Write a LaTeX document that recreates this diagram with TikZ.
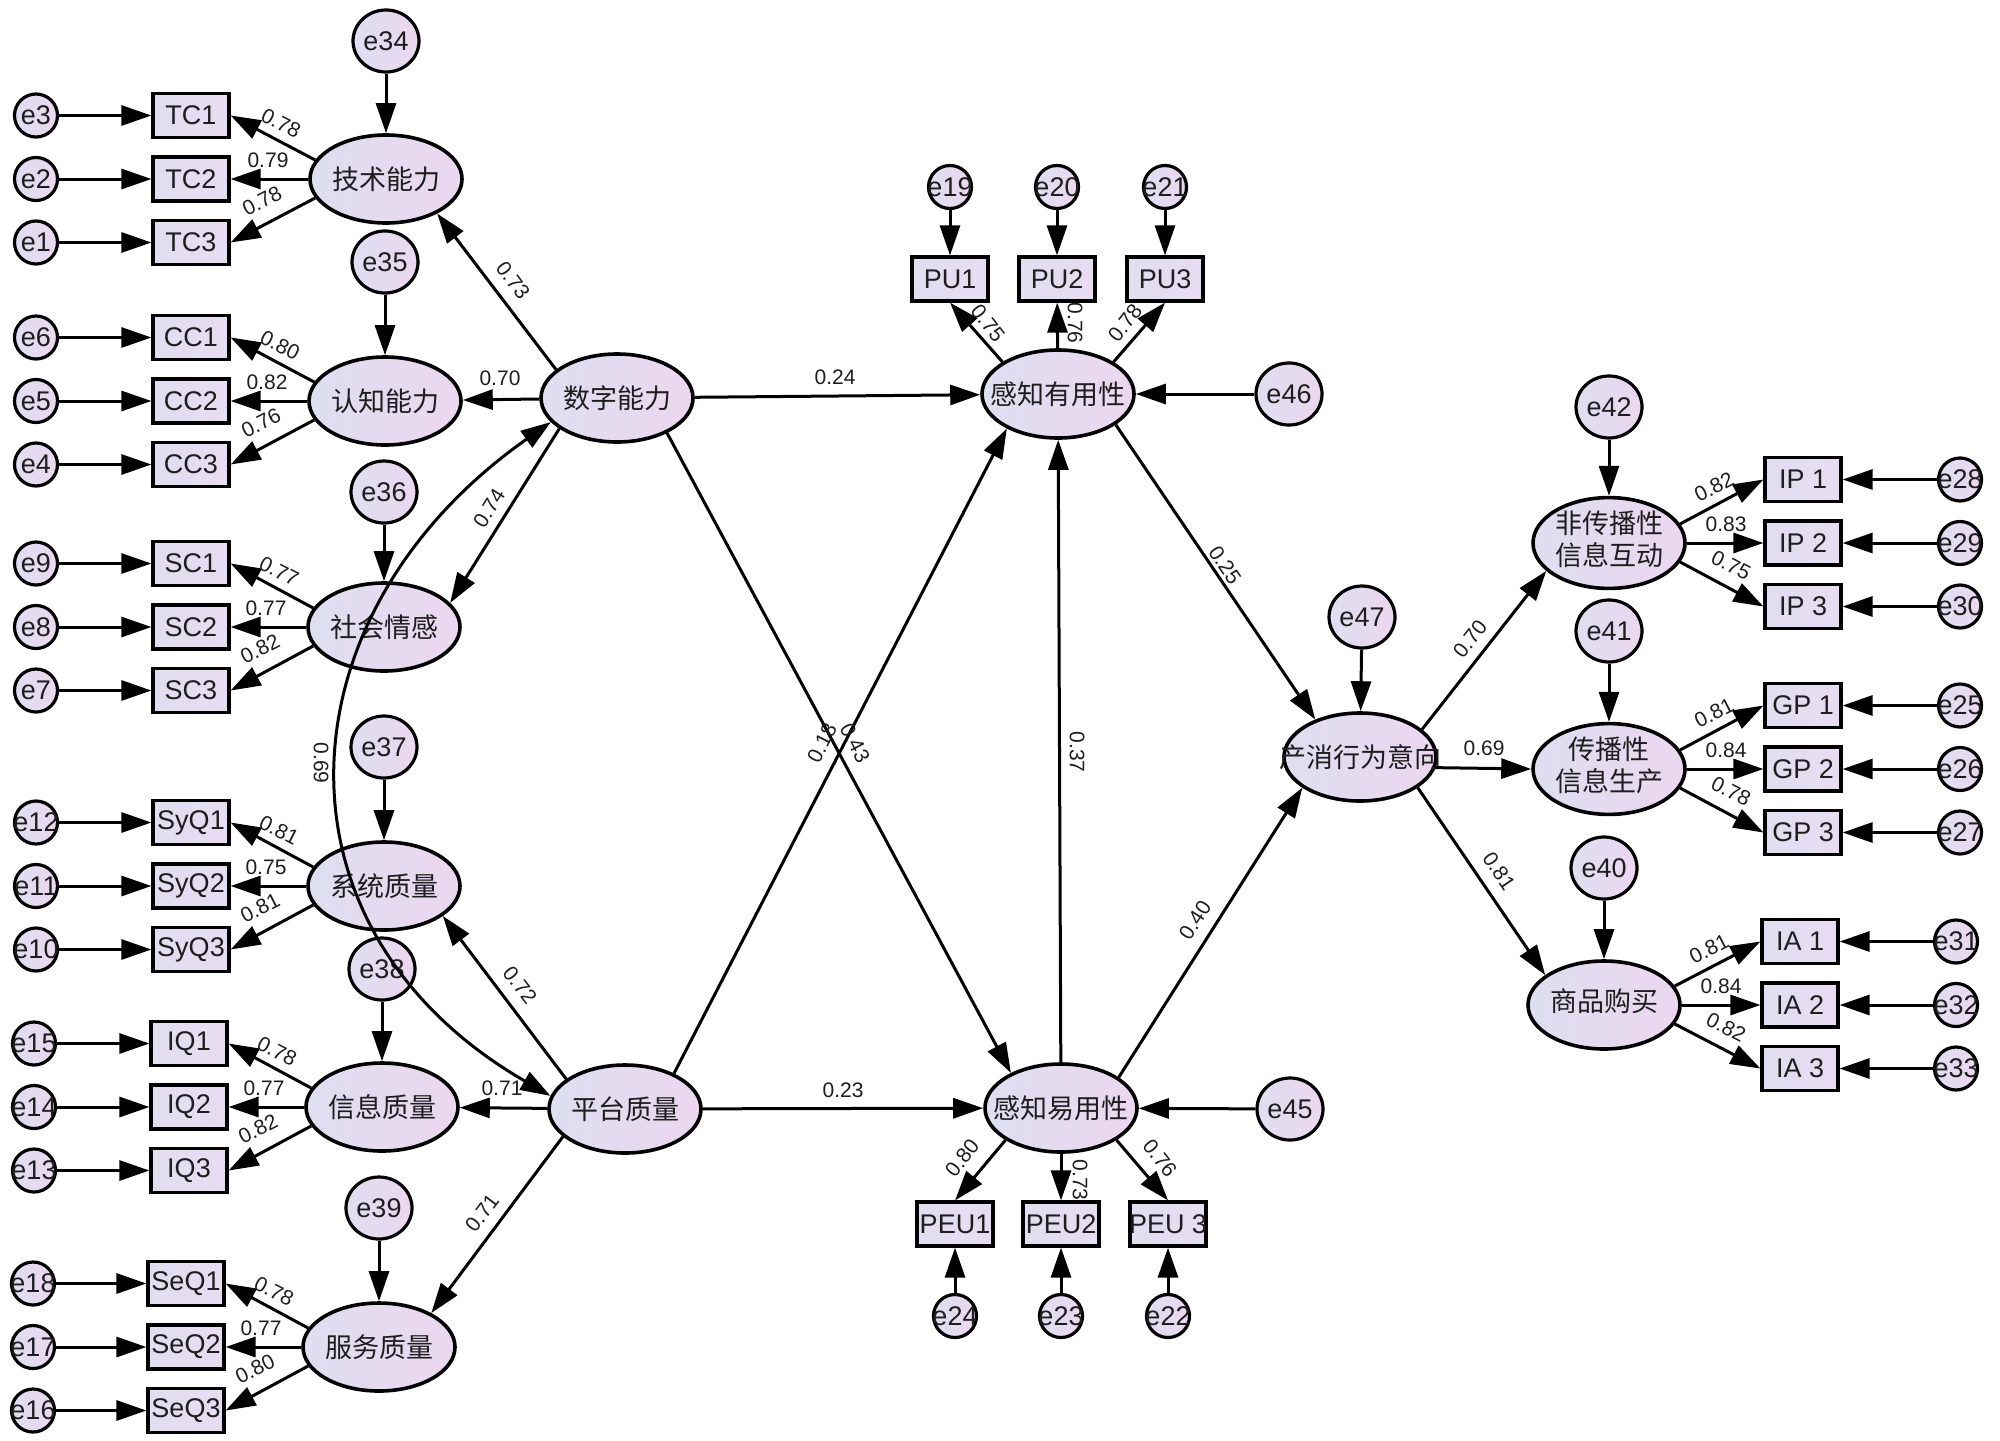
\documentclass[tikz,border=0pt]{standalone}
\usepackage{fontspec}
\setmainfont{Liberation Sans}
\newfontfamily\cjk{Noto Sans CJK SC}
\usetikzlibrary{shapes.geometric,arrows.meta,calc}
\definecolor{latL}{RGB}{222,223,240}
\definecolor{latR}{RGB}{236,214,240}
\definecolor{boxL}{RGB}{224,222,240}
\definecolor{boxR}{RGB}{232,220,242}
\definecolor{txt}{RGB}{30,30,30}
\begin{document}
\begin{tikzpicture}[x=0.5pt,y=-0.5pt,
 lat/.style={ellipse,draw=black,line width=1.8pt,minimum width=76pt,minimum height=44pt,inner sep=0pt,left color=latL,right color=latR,align=center,text=txt,font=\cjk\fontsize{13.5pt}{15.5pt}\selectfont},
 obs/.style={rectangle,draw=black,line width=1.6pt,minimum width=38pt,minimum height=22pt,inner sep=0pt,left color=boxL,right color=boxR,text=txt,font=\fontsize{13.5pt}{15.5pt}\selectfont},
 err/.style={ellipse,draw=black,line width=1.6pt,minimum width=21.5pt,minimum height=21.5pt,inner sep=0pt,left color=latL,right color=latR,text=txt,font=\fontsize{13.5pt}{15.5pt}\selectfont},
 errb/.style={err,minimum width=33pt,minimum height=31pt},
 arr/.style={-{Triangle[length=15pt,width=10pt]},line width=1.5pt},
 dbl/.style={{Triangle[length=15pt,width=10pt]}-{Triangle[length=15pt,width=10pt]},line width=1.5pt},
 lbl/.style={inner sep=0pt,text=txt,font=\fontsize{10.5pt}{12pt}\selectfont}]
\fill[white] (0,0) rectangle (2000,1440);
\useasboundingbox (0,0) rectangle (2000,1440);

% ---------- left measurement groups ----------
\foreach \gn/\gt/\gx/\gy/\ge/\gey/\gbx/\gex/\gea/\geb/\gec/\gva/\gvb/\gvc in {
 TC/技术能力/386/179/e34/41/191/36/e3/e2/e1/0.78/0.79/0.78,
 CC/认知能力/385/401/e35/262/191/36/e6/e5/e4/0.80/0.82/0.76,
 SC/社会情感/384/627/e36/492/191/36/e9/e8/e7/0.77/0.77/0.82,
 SyQ/系统质量/384/886/e37/747/191/36/e12/e11/e10/0.81/0.75/0.81,
 IQ/信息质量/382/1107/e38/969/189/34/e15/e14/e13/0.78/0.77/0.82,
 SeQ/服务质量/379/1347/e39/1208/186/33/e18/e17/e16/0.78/0.77/0.80}
{
 \node[lat] (\gn) at (\gx,\gy) {\makebox[0pt]{\gt}};
 \node[errb] (\ge) at (\gx,\gey) {\makebox[0pt]{\ge}};
 \node[obs] (\gn1) at (\gbx,\gy-63.5) {\makebox[0pt]{\gn1}};
 \node[obs] (\gn2) at (\gbx,\gy) {\makebox[0pt]{\gn2}};
 \node[obs] (\gn3) at (\gbx,\gy+63.5) {\makebox[0pt]{\gn3}};
 \node[err] (\gea) at (\gex,\gy-63.5) {\makebox[0pt]{\gea}};
 \node[err] (\geb) at (\gex,\gy) {\makebox[0pt]{\geb}};
 \node[err] (\gec) at (\gex,\gy+63.5) {\makebox[0pt]{\gec}};
 \draw[arr] (\ge) -- (\gn);
 \draw[arr] (\gea) -- (\gn1);
 \draw[arr] (\geb) -- (\gn2);
 \draw[arr] (\gec) -- (\gn3);
 \draw[arr] (\gn.165) -- (\gn1.east);
 \draw[arr] (\gn) -- (\gn2);
 \draw[arr] (\gn.195) -- (\gn3.east);
 \node[lbl,rotate=-27] (l\gn1) at ($(\gn)+(-105,-56)$) {\gva};
 \node[lbl] (l\gn2) at ($(\gn)+(-118,-19)$) {\gvb};
 \node[lbl,rotate=27] (l\gn3) at ($(\gn)+(-124,22)$) {\gvc};
}

% ---------- right measurement groups ----------
\foreach \gn/\gt/\gx/\gy/\ge/\gey/\gbx/\gex/\gea/\geb/\gec/\gva/\gvb/\gvc in {
 IP/非传播性\\信息互动/1609/543/e42/407/1803/1960/e28/e29/e30/0.82/0.83/0.75,
 GP/传播性\\信息生产/1609/769/e41/631/1803/1960/e25/e26/e27/0.81/0.84/0.78,
 IA/商品购买/1604/1005/e40/868/1800/1956/e31/e32/e33/0.81/0.84/0.82}
{
 \node[lat] (\gn) at (\gx,\gy) {\makebox[0pt]{\begin{tabular}{@{}c@{}}\gt\end{tabular}}};
 \node[errb] (\ge) at (\gx,\gey) {\makebox[0pt]{\ge}};
 \node[obs] (\gn1) at (\gbx,\gy-63.5) {\makebox[0pt]{\gn{} 1}};
 \node[obs] (\gn2) at (\gbx,\gy) {\makebox[0pt]{\gn{} 2}};
 \node[obs] (\gn3) at (\gbx,\gy+63.5) {\makebox[0pt]{\gn{} 3}};
 \node[err] (\gea) at (\gex,\gy-63.5) {\makebox[0pt]{\gea}};
 \node[err] (\geb) at (\gex,\gy) {\makebox[0pt]{\geb}};
 \node[err] (\gec) at (\gex,\gy+63.5) {\makebox[0pt]{\gec}};
 \draw[arr] (\ge) -- (\gn);
 \draw[arr] (\gea) -- (\gn1);
 \draw[arr] (\geb) -- (\gn2);
 \draw[arr] (\gec) -- (\gn3);
 \draw[arr] (\gn.15) -- (\gn1.west);
 \draw[arr] (\gn) -- (\gn2);
 \draw[arr] (\gn.345) -- (\gn3.west);
 \node[lbl,rotate=27] (l\gn1) at ($(\gn)+(105,-56)$) {\gva};
 \node[lbl] (l\gn2) at ($(\gn)+(117,-19)$) {\gvb};
 \node[lbl,rotate=-27] (l\gn3) at ($(\gn)+(122,22)$) {\gvc};
}

% ---------- central latents ----------
\node[lat] (DZ) at (617,398) {\makebox[0pt]{数字能力}};
\node[lat] (PQ) at (625,1109) {\makebox[0pt]{平台质量}};
\node[lat] (PU) at (1058,394) {\makebox[0pt]{感知有用性}};
\node[lat] (PEU) at (1061,1108) {\makebox[0pt]{感知易用性}};
\node[lat] (PI) at (1360,757) {\makebox[0pt]{产消行为意向}};
\node[errb] (e46) at (1289,394) {\makebox[0pt]{e46}};
\node[errb] (e45) at (1290,1109) {\makebox[0pt]{e45}};
\node[errb] (e47) at (1362,617) {\makebox[0pt]{e47}};

% PU indicators
\node[obs] (PU1) at (950,279) {\makebox[0pt]{PU1}};
\node[obs] (PU2) at (1057,279) {\makebox[0pt]{PU2}};
\node[obs] (PU3) at (1165,279) {\makebox[0pt]{PU3}};
\node[err] (e19) at (950,187) {\makebox[0pt]{e19}};
\node[err] (e20) at (1057,187) {\makebox[0pt]{e20}};
\node[err] (e21) at (1165,187) {\makebox[0pt]{e21}};
% PEU indicators
\node[obs] (PEU1) at (955,1224) {\makebox[0pt]{PEU1}};
\node[obs] (PEU2) at (1061,1224) {\makebox[0pt]{PEU2}};
\node[obs] (PEU3) at (1168,1224) {\makebox[0pt]{PEU 3}};
\node[err] (e24) at (955,1316) {\makebox[0pt]{e24}};
\node[err] (e23) at (1061,1316) {\makebox[0pt]{e23}};
\node[err] (e22) at (1168,1316) {\makebox[0pt]{e22}};

\draw[arr] (e19) -- (PU1);
\draw[arr] (e20) -- (PU2);
\draw[arr] (e21) -- (PU3);
\draw[arr] (PU.150) -- (PU1.south);
\draw[arr] (PU) -- (PU2);
\draw[arr] (PU.30) -- (PU3.south);
\draw[arr] (e24) -- (PEU1);
\draw[arr] (e23) -- (PEU2);
\draw[arr] (e22) -- (PEU3);
\draw[arr] (PEU.210) -- (PEU1.north);
\draw[arr] (PEU) -- (PEU2);
\draw[arr] (PEU.330) -- (PEU3.north);
\draw[arr] (e46) -- (PU);
\draw[arr] (e45) -- (PEU);
\draw[arr] (e47) -- (PI);

% structural paths
\draw[arr] (DZ.155) -- (TC.326);
\draw[arr] (DZ) -- (CC);
\draw[arr] (DZ.208) -- (SC.20);
\draw[arr] (PQ.153) -- (SyQ.333);
\draw[arr] (PQ) -- (IQ);
\draw[arr] (PQ.204) -- (SeQ.33);
\draw[arr] (DZ) -- (PU);
\draw[arr] (DZ.325) -- (PEU.145);
\draw[arr] (PQ.36) -- (PU.214);
\draw[arr] (PQ) -- (PEU);
\draw[arr] (PEU) -- (PU);
\draw[arr] (PU.332) -- (PI.140);
\draw[arr] (PEU.28) -- (PI.208);
\draw[arr] (PI.24) -- (IP.204);
\draw[arr] (PI.352) -- (GP.180);
\draw[arr] (PI.332) -- (IA.153);
\draw[dbl] (DZ.200) .. controls +(-273,192) and +(-289,-167) .. (PQ.170);

% labels
\node[lbl,rotate=-53] (l73) at (513,280) {0.73};
\node[lbl] (l70) at (500,378) {0.70};
\node[lbl,rotate=58] (l74) at (489,508) {0.74};
\node[lbl,rotate=-52] (l72) at (520,985) {0.72};
\node[lbl] (l71a) at (502,1088) {0.71};
\node[lbl,rotate=53] (l71b) at (482,1213) {0.71};
\node[lbl] (l24) at (835,377) {0.24};
\node[lbl] (l23) at (843,1090) {0.23};
\node[lbl,rotate=63] (l18) at (822,743) {0.18};
\node[lbl,rotate=-62] (l43) at (855,743) {0.43};
\node[lbl,rotate=-90] (l37) at (1077,752) {0.37};
\node[lbl,rotate=-56] (l25) at (1225,565) {0.25};
\node[lbl,rotate=57] (l40) at (1195,920) {0.40};
\node[lbl,rotate=52] (l70b) at (1470,639) {0.70};
\node[lbl] (l69b) at (1484,748) {0.69};
\node[lbl,rotate=-56] (l81) at (1499,871) {0.81};
\node[lbl,rotate=-90] (l69) at (321,763) {0.69};
\node[lbl,rotate=-52] (lPU1) at (988,323) {0.75};
\node[lbl,rotate=-90] (lPU2) at (1075,323) {0.76};
\node[lbl,rotate=52] (lPU3) at (1125,323) {0.78};
\node[lbl,rotate=52] (lPEU1) at (962,1158) {0.80};
\node[lbl,rotate=-90] (lPEU2) at (1080,1180) {0.73};
\node[lbl,rotate=-52] (lPEU3) at (1160,1158) {0.76};
\end{tikzpicture}
\end{document}
